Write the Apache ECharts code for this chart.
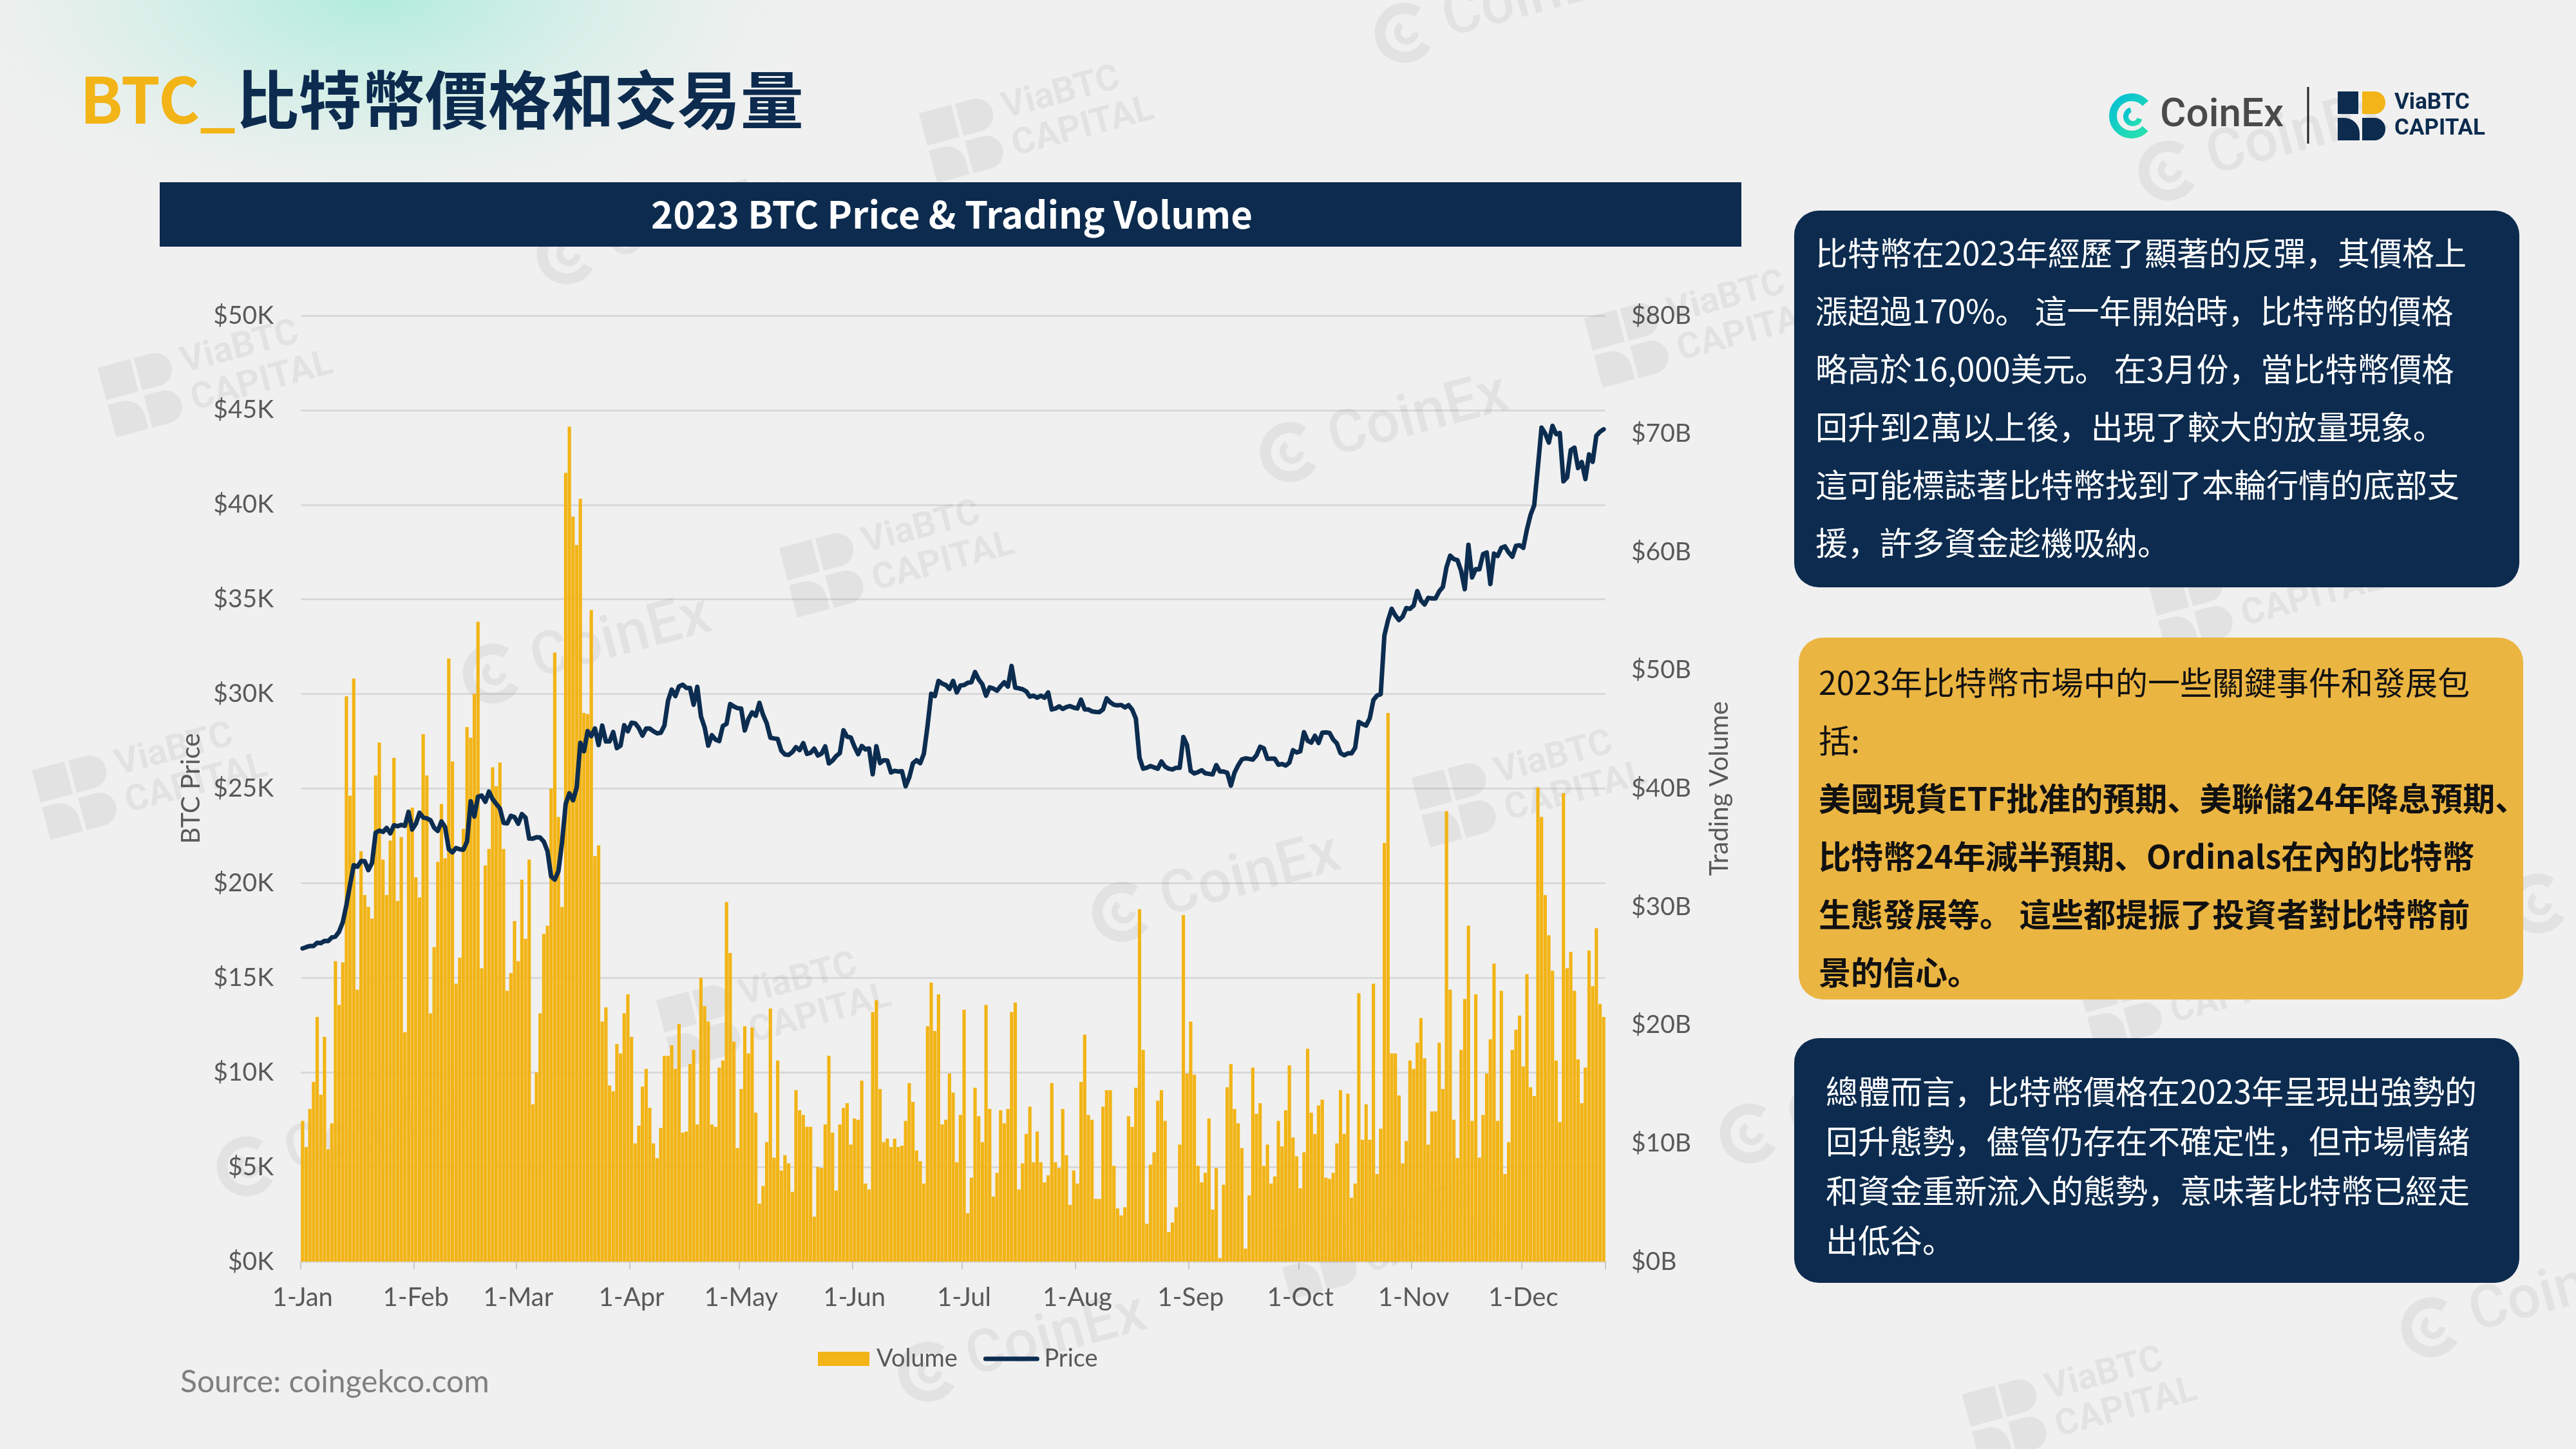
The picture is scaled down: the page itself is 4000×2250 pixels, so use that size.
<!DOCTYPE html>
<html>
<head>
<meta charset="utf-8">
<script src="https://cdn.jsdelivr.net/npm/echarts@6/dist/echarts.min.js"></script>
<style>
html,body{margin:0;padding:0;background:#F0F0F0;}
#c{width:4000px;height:2250px;}
</style>
</head>
<body>
<div id="c"></div>
<script>
// ---------------- DATA ----------------
const MONTH_NAMES = ['Jan','Feb','Mar','Apr','May','Jun','Jul','Aug','Sep','Oct','Nov','Dec'];
const MONTH_DAYS = [31,28,31,30,31,30,31,31,30,31,30,31];
const DAY_COUNT = 357; // 1-Jan .. 23-Dec 2023

// BTC price, thousands of USD (daily)
const PRICE_K = [
16.55,16.62,16.68,16.68,16.85,16.83,16.95,16.94,17.13,17.18,
17.44,17.94,18.85,19.93,20.95,20.87,21.17,21.16,20.69,21.07,
22.67,22.78,22.71,22.92,22.63,23.06,23.01,23.08,23.03,23.77,
22.84,23.14,23.72,23.47,23.43,23.33,22.93,22.76,23.26,22.96,
21.80,21.63,21.86,21.79,21.77,22.20,24.33,23.52,24.57,24.63,
24.30,24.84,24.44,24.19,23.95,23.19,23.16,23.56,23.49,23.14,
23.65,23.47,22.36,22.35,22.43,22.41,22.20,21.70,20.36,20.19,
20.63,22.16,24.20,24.75,24.38,25.05,27.42,26.97,28.04,27.77,
28.18,27.30,28.33,27.49,27.49,27.99,27.14,27.27,28.35,28.03,
28.48,28.45,28.20,27.80,28.17,28.17,28.03,27.92,27.95,28.33,
29.65,30.23,29.89,30.40,30.49,30.32,30.32,29.43,30.38,28.82,
28.25,27.27,27.82,27.59,27.51,28.31,28.42,29.47,29.34,29.25,
29.23,28.07,28.68,29.03,28.85,29.53,28.90,28.45,27.69,27.65,
27.62,27.00,26.80,26.78,26.93,27.19,27.03,27.40,26.83,26.89,
27.11,26.75,26.85,27.23,26.33,26.48,26.72,26.87,28.08,27.74,
27.70,27.22,26.82,27.25,27.07,27.12,25.76,27.24,26.35,26.50,
26.48,25.85,25.94,25.90,25.92,25.12,25.59,26.34,26.50,26.34,
26.85,28.31,30.01,29.89,30.69,30.55,30.47,30.27,30.69,30.08,
30.45,30.47,30.59,30.62,31.16,30.77,30.51,29.91,30.35,30.29,
30.17,30.41,30.62,30.39,31.48,30.33,30.30,30.25,30.14,29.86,
29.91,29.80,29.91,29.80,30.08,29.18,29.23,29.35,29.21,29.31,
29.36,29.28,29.23,29.70,29.19,29.18,29.08,29.05,29.04,29.18,
29.77,29.56,29.43,29.40,29.42,29.29,29.41,29.17,28.70,26.63,
26.05,26.10,26.19,26.12,26.05,26.43,26.16,26.05,26.01,26.10,
26.10,27.72,27.30,25.93,25.80,25.87,25.97,25.81,25.78,25.75,
26.24,25.90,25.90,25.84,25.16,25.84,26.23,26.54,26.60,26.57,
26.53,26.76,27.21,27.13,26.57,26.58,26.58,26.26,26.30,26.22,
26.37,27.03,26.91,26.97,27.98,27.53,27.43,27.79,27.41,27.95,
27.97,27.94,27.59,27.39,26.87,26.76,26.86,26.86,27.16,28.52,
28.41,28.33,28.72,29.68,29.92,29.99,33.09,33.90,34.50,34.15,
33.91,34.09,34.54,34.50,34.67,35.44,34.94,34.73,35.08,35.05,
35.05,35.42,35.65,36.70,37.31,37.13,37.07,36.50,35.54,37.88,
36.16,36.60,36.59,37.39,37.48,35.81,37.42,37.29,37.72,37.80,
37.48,37.25,37.83,37.86,37.72,38.69,39.47,39.98,41.98,44.08,
43.77,43.29,44.17,43.73,43.79,41.24,41.45,42.89,43.02,41.94,
42.26,41.36,42.66,42.27,43.65,43.86,43.99
];

// Trading volume, billions of USD (daily)
const VOLUME_B = [
11.9,9.7,12.9,15.2,20.7,14.1,19.0,9.5,11.7,25.4,21.7,25.3,
47.8,39.4,49.3,23.0,34.7,31.0,30.0,29.0,41.1,43.9,
34.0,31.0,35.6,42.6,30.5,35.9,19.4,38.2,38.4,32.5,
30.8,44.6,41.1,21.0,26.6,33.8,38.7,34.1,51.0,42.3,
23.5,25.7,36.6,45.2,44.3,48.0,54.1,24.8,33.5,34.9,
41.8,40.2,42.2,34.9,22.9,24.4,28.8,25.4,32.3,27.3,
34.0,13.3,16.0,21.0,27.7,28.4,40.0,51.5,37.6,30.0,
66.7,70.6,63.0,60.6,64.5,46.4,46.3,55.1,34.3,35.2,
20.3,21.5,14.9,14.4,18.4,17.6,21.0,22.6,19.0,10.0,
11.5,14.8,16.3,13.0,10.0,8.75,11.3,17.4,17.4,18.3,
16.3,20.1,10.9,11.0,16.7,17.9,11.6,24.0,21.6,20.3,
11.6,11.4,16.4,17.0,30.4,26.1,18.6,9.6,14.6,19.9,
17.6,19.8,12.6,4.9,6.4,10.1,21.4,8.8,17.0,7.7,
9.0,8.3,5.9,14.5,12.8,12.4,11.4,11.4,3.8,8.0,
7.9,11.6,17.4,10.9,6.0,11.6,13.0,13.4,9.9,12.1,
12.0,15.3,6.6,6.1,21.1,22.1,14.6,10.1,10.4,9.7,
10.4,9.7,9.8,11.9,15.1,13.5,9.4,8.5,6.6,19.9,
23.6,19.5,22.6,11.6,12.0,15.9,14.3,8.4,12.4,21.3,
4.1,7.1,14.7,12.3,10.1,21.7,12.9,5.5,7.5,12.8,
11.7,12.9,21.1,21.9,6.1,8.3,10.8,13.1,
8.4,11.0,8.4,6.7,7.3,15.1,8.4,7.9,12.9,9.0,4.8,7.7,
6.6,15.2,19.2,12.4,12.0,5.3,5.3,13.1,14.5,14.5,8.1,4.5,3.9,4.6,12.3,11.4,14.7,29.8,17.9,3.2,8.2,9.25,13.6,14.5,11.9,2.5,3.3,4.6,9.9,29.3,15.9,
20.3,15.8,8.1,6.7,7.5,12.1,4.4,7.9,0.3,6.5,14.75,16.7,12.9,11.7,9.6,1.1,5.6,16.4,12.5,13.4,8.1,9.9,6.6,7.2,11.9,9.75,12.8,16.6,10.5,8.9,
6.2,9.25,18.0,12.6,10.8,13.2,13.7,7.1,7.0,7.5,10.0,14.5,10.8,14.2,5.4,6.6,22.7,10.3,13.3,10.3,23.5,7.4,11.25,35.4,46.4,17.6,17.6,14.05,8.3,10.2,17.0,
16.3,18.5,20.6,17.2,9.9,12.7,12.7,18.5,14.6,38.1,23.0,12.0,8.75,17.9,22.2,28.4,11.9,22.6,8.8,12.4,15.9,18.8,25.2,11.9,22.9,7.4,10.1,17.9,19.6,20.8,
16.5,24.3,14.75,14.0,40.1,37.6,31.0,27.6,24.6,17.0,11.8,39.6,24.8,26.2,22.9,17.1,13.4,16.4,26.3,23.3,28.2,21.8,20.7
];

// Category labels "d-Mon"
const categories = [];
(function(){ let m = 0, d = 1;
  for (let i = 0; i < DAY_COUNT; i++) {
    categories.push(d + '-' + MONTH_NAMES[m]);
    d++; if (d > MONTH_DAYS[m]) { d = 1; m++; }
  }
})();
const isMonthStart = (idx) => categories[idx].indexOf('1-') === 0;

// ---------------- STYLE ----------------
const NAVY = '#0C2B4E';
const YELLOW = '#F2B416';
const LINE_NAVY = '#0C2D50';
const AXIS_TXT = '#595959';
const WM = 'rgba(0,0,0,0.055)';
const CJK = '"Noto Sans CJK TC"';
const CJK_BODY = '"Noto Sans CJK SC","Noto Sans CJK TC"';

function coinexMark(x, y) {
  return { type: 'group', x: x, y: y, rotation: 0.26, children: [
    { type: 'arc', z: 1, shape: { cx: 0, cy: 0, r: 38, startAngle: 0.75, endAngle: 5.55 }, style: { stroke: WM, lineWidth: 17, fill: null } },
    { type: 'arc', z: 1, shape: { cx: 3, cy: 0, r: 14, startAngle: 0.3, endAngle: 4.4 }, style: { stroke: WM, lineWidth: 10, fill: null } },
    { type: 'text', z: 1, x: 64, y: 0, style: { text: 'CoinEx', fill: WM, font: '500 92px Roboto', verticalAlign: 'middle', textVerticalAlign: 'middle' } }
  ]};
}
function viaMark(x, y) {
  return { type: 'group', x: x, y: y, rotation: 0.26, children: [
    { type: 'rect', z: 1, shape: { x: 0, y: -56, width: 52, height: 52 }, style: { fill: WM } },
    { type: 'rect', z: 1, shape: { x: 58, y: -56, width: 54, height: 52, r: [0, 26, 26, 0] }, style: { fill: WM } },
    { type: 'rect', z: 1, shape: { x: 0, y: 4, width: 52, height: 52, r: [0, 30, 0, 0] }, style: { fill: WM } },
    { type: 'rect', z: 1, shape: { x: 58, y: 4, width: 54, height: 52, r: [0, 26, 26, 0] }, style: { fill: WM } },
    { type: 'text', z: 1, x: 128, y: -28, style: { text: 'ViaBTC', fill: WM, font: 'bold 56px Roboto', verticalAlign: 'middle', textVerticalAlign: 'middle' } },
    { type: 'text', z: 1, x: 128, y: 32, style: { text: 'CAPITAL', fill: WM, font: 'bold 56px Roboto', verticalAlign: 'middle', textVerticalAlign: 'middle' } }
  ]};
}

function textLine(x, y, text, color, weight, size) {
  return { type: 'text', z: 12, x: x, y: y, style: { text: text, fill: color,
    font: weight + ' ' + size + 'px ' + CJK_BODY, verticalAlign: 'middle', textVerticalAlign: 'middle' } };
}

const BOX1 = ['比特幣在2023年經歷了顯著的反彈，其價格上','漲超過170%。 這一年開始時，比特幣的價格','略高於16,000美元。 在3月份，當比特幣價格','回升到2萬以上後，出現了較大的放量現象。','這可能標誌著比特幣找到了本輪行情的底部支','援，許多資金趁機吸納。'];
const BOX2 = ['2023年比特幣市場中的一些關鍵事件和發展包','括:','美國現貨ETF批准的預期、美聯儲24年降息預期、','比特幣24年減半預期、Ordinals在內的比特幣','生態發展等。 這些都提振了投資者對比特幣前','景的信心。'];
const BOX3 = ['總體而言，比特幣價格在2023年呈現出強勢的','回升態勢，儘管仍存在不確定性，但市場情緒','和資金重新流入的態勢，意味著比特幣已經走','出低谷。'];

const graphics = [];
// background glow
graphics.push({ type: 'circle', z: 0, x: 580, y: -10, scaleY: 0.5, shape: { cx: 0, cy: 0, r: 760 },
  style: { fill: new echarts.graphic.RadialGradient(0.5, 0.5, 0.5, [
    { offset: 0, color: 'rgba(172,236,218,0.95)' },
    { offset: 0.4, color: 'rgba(196,238,226,0.65)' },
    { offset: 1, color: 'rgba(240,240,240,0)' } ]) } });
// watermarks
[[2181,51],[880,395],[2003,702],[765,1046],[1742,1416],[2717,1760],[383,1811],[1441,2130],[3775,2061],[3367,265],[3941,1403]].forEach(p => graphics.push(coinexMark(p[0], p[1])));
[[1441,230],[166,625],[2474,548],[1224,905],[64,1250],[2206,1262],[1033,1607],[3240,1576],[1990,1964],[3061,2219],[3350,960]].forEach(p => graphics.push(viaMark(p[0], p[1])));

// title
graphics.push({ type: 'text', z: 12, x: 124, y: 155, style: {
  text: '{a|BTC_}{b|比特幣價格和交易量}', verticalAlign: 'middle', textVerticalAlign: 'middle',
  rich: { a: { fill: YELLOW, font: 'bold 98px ' + CJK }, b: { fill: NAVY, font: 'bold 98px ' + CJK } } } });

// logos
const tealGrad = new echarts.graphic.LinearGradient(0, 0, 1, 1, [{ offset: 0, color: '#00BCD8' }, { offset: 1, color: '#2DE5AA' }]);
graphics.push({ type: 'arc', z: 12, shape: { cx: 3310, cy: 180, r: 29, startAngle: 0.75, endAngle: 5.55 }, style: { stroke: tealGrad, lineWidth: 12, fill: null } });
graphics.push({ type: 'arc', z: 12, shape: { cx: 3312, cy: 181, r: 11, startAngle: 0.3, endAngle: 4.4 }, style: { stroke: tealGrad, lineWidth: 8, fill: null } });
graphics.push({ type: 'text', z: 12, x: 3354, y: 180, style: { text: 'CoinEx', fill: '#4A4A4A', font: '500 62px Roboto', verticalAlign: 'middle', textVerticalAlign: 'middle' } });
graphics.push({ type: 'line', z: 12, shape: { x1: 3584, y1: 135, x2: 3584, y2: 223 }, style: { stroke: '#222', lineWidth: 3 } });
graphics.push({ type: 'rect', z: 12, shape: { x: 3630, y: 142, width: 32, height: 35 }, style: { fill: NAVY } });
graphics.push({ type: 'rect', z: 12, shape: { x: 3668, y: 142, width: 36, height: 35, r: [0, 17, 17, 0] }, style: { fill: YELLOW } });
graphics.push({ type: 'rect', z: 12, shape: { x: 3630, y: 183, width: 34, height: 35, r: [0, 24, 0, 0] }, style: { fill: NAVY } });
graphics.push({ type: 'rect', z: 12, shape: { x: 3668, y: 183, width: 36, height: 35, r: [0, 17, 17, 0] }, style: { fill: NAVY } });
graphics.push({ type: 'text', z: 12, x: 3718, y: 160, style: { text: 'ViaBTC', fill: NAVY, font: 'bold 35px Roboto', verticalAlign: 'middle', textVerticalAlign: 'middle' } });
graphics.push({ type: 'text', z: 12, x: 3718, y: 200, style: { text: 'CAPITAL', fill: NAVY, font: 'bold 35px Roboto', verticalAlign: 'middle', textVerticalAlign: 'middle' } });

// header bar
graphics.push({ type: 'rect', z: 11, shape: { x: 248, y: 283, width: 2456, height: 100 }, style: { fill: NAVY } });
graphics.push({ type: 'text', z: 12, x: 1478, y: 333, style: { text: '2023 BTC Price & Trading Volume', fill: '#FFFFFF',
  font: 'bold 58px ' + CJK, align: 'center', textAlign: 'center', verticalAlign: 'middle', textVerticalAlign: 'middle' } });

// text boxes
graphics.push({ type: 'rect', z: 11, shape: { x: 2786, y: 327, width: 1126, height: 585, r: 38 }, style: { fill: NAVY } });
BOX1.forEach((t, i) => graphics.push(textLine(2819, 393 + i * 90, t, '#FFFFFF', 'normal', 50)));
graphics.push({ type: 'rect', z: 11, shape: { x: 2793, y: 990, width: 1125, height: 562, r: 38 }, style: { fill: '#EBB542' } });
BOX2.forEach((t, i) => graphics.push(textLine(2824, 1060 + i * 90, t, '#111111', i < 2 ? 'normal' : 'bold', 50)));
graphics.push({ type: 'rect', z: 11, shape: { x: 2786, y: 1612, width: 1126, height: 380, r: 38 }, style: { fill: NAVY } });
BOX3.forEach((t, i) => graphics.push(textLine(2835, 1695 + i * 77, t, '#FFFFFF', 'normal', 50)));

// source
graphics.push({ type: 'text', z: 12, x: 280, y: 2147, style: { text: 'Source: coingekco.com', fill: '#7F7F7F', font: '48px Lato', verticalAlign: 'middle', textVerticalAlign: 'middle' } });

const chart = echarts.init(document.getElementById('c'), null, { renderer: 'canvas' });
chart.setOption({
  backgroundColor: '#F0F0F0',
  animation: false,
  textStyle: { fontFamily: 'Lato' },
  grid: { left: 467, right: 1507, top: 490, bottom: 291, containLabel: false },
  legend: {
    left: 1270, top: 2091, padding: 0, itemWidth: 80, itemHeight: 22, itemGap: 40,
    textStyle: { fontSize: 38, color: AXIS_TXT, fontFamily: 'Lato', padding: [0, 0, 0, 6] },
    data: [
      { name: 'Volume', icon: 'rect' },
      { name: 'Price', itemStyle: { opacity: 0, borderWidth: 0 }, lineStyle: { width: 7, color: LINE_NAVY, cap: 'round', opacity: 1 } }
    ]
  },
  xAxis: {
    type: 'category', data: categories, boundaryGap: true,
    axisLine: { lineStyle: { color: '#D9D9D9', width: 3 } },
    axisTick: { show: true, interval: (i) => isMonthStart(i), alignWithLabel: false, length: 12, lineStyle: { color: '#C8C8C8', width: 2 } },
    axisLabel: { interval: (i) => isMonthStart(i), color: AXIS_TXT, fontSize: 40, margin: 36, fontFamily: 'Lato' },
    splitLine: { show: false }
  },
  yAxis: [
    { type: 'value', min: 0, max: 50, interval: 5, name: 'BTC Price', nameLocation: 'middle', nameRotate: 90, nameGap: 150,
      nameTextStyle: { fontSize: 40, color: AXIS_TXT, fontFamily: 'Lato' },
      axisLabel: { formatter: (v) => '$' + v + 'K', fontSize: 39, color: AXIS_TXT, margin: 42, fontFamily: 'Lato' },
      splitLine: { lineStyle: { color: '#D9D9D9', width: 3 } }, axisLine: { show: false }, axisTick: { show: false } },
    { type: 'value', min: 0, max: 80, interval: 10, position: 'right', name: 'Trading Volume', nameLocation: 'middle', nameRotate: 90, nameGap: 157,
      nameTextStyle: { fontSize: 40, color: AXIS_TXT, fontFamily: 'Lato' },
      axisLabel: { formatter: (v) => '$' + v + 'B', fontSize: 39, color: AXIS_TXT, margin: 40, fontFamily: 'Lato' },
      splitLine: { show: false }, axisLine: { show: false }, axisTick: { show: false } }
  ],
  series: [
    { name: 'Volume', type: 'bar', yAxisIndex: 1, data: VOLUME_B, barCategoryGap: '8%', itemStyle: { color: YELLOW }, z: 2 },
    { name: 'Price', type: 'line', yAxisIndex: 0, data: PRICE_K, symbol: 'none', showSymbol: false,
      lineStyle: { color: LINE_NAVY, width: 7, cap: 'round', join: 'round' }, itemStyle: { color: LINE_NAVY }, z: 3 }
  ],
  graphic: { elements: graphics }
});
</script>
</body>
</html>
